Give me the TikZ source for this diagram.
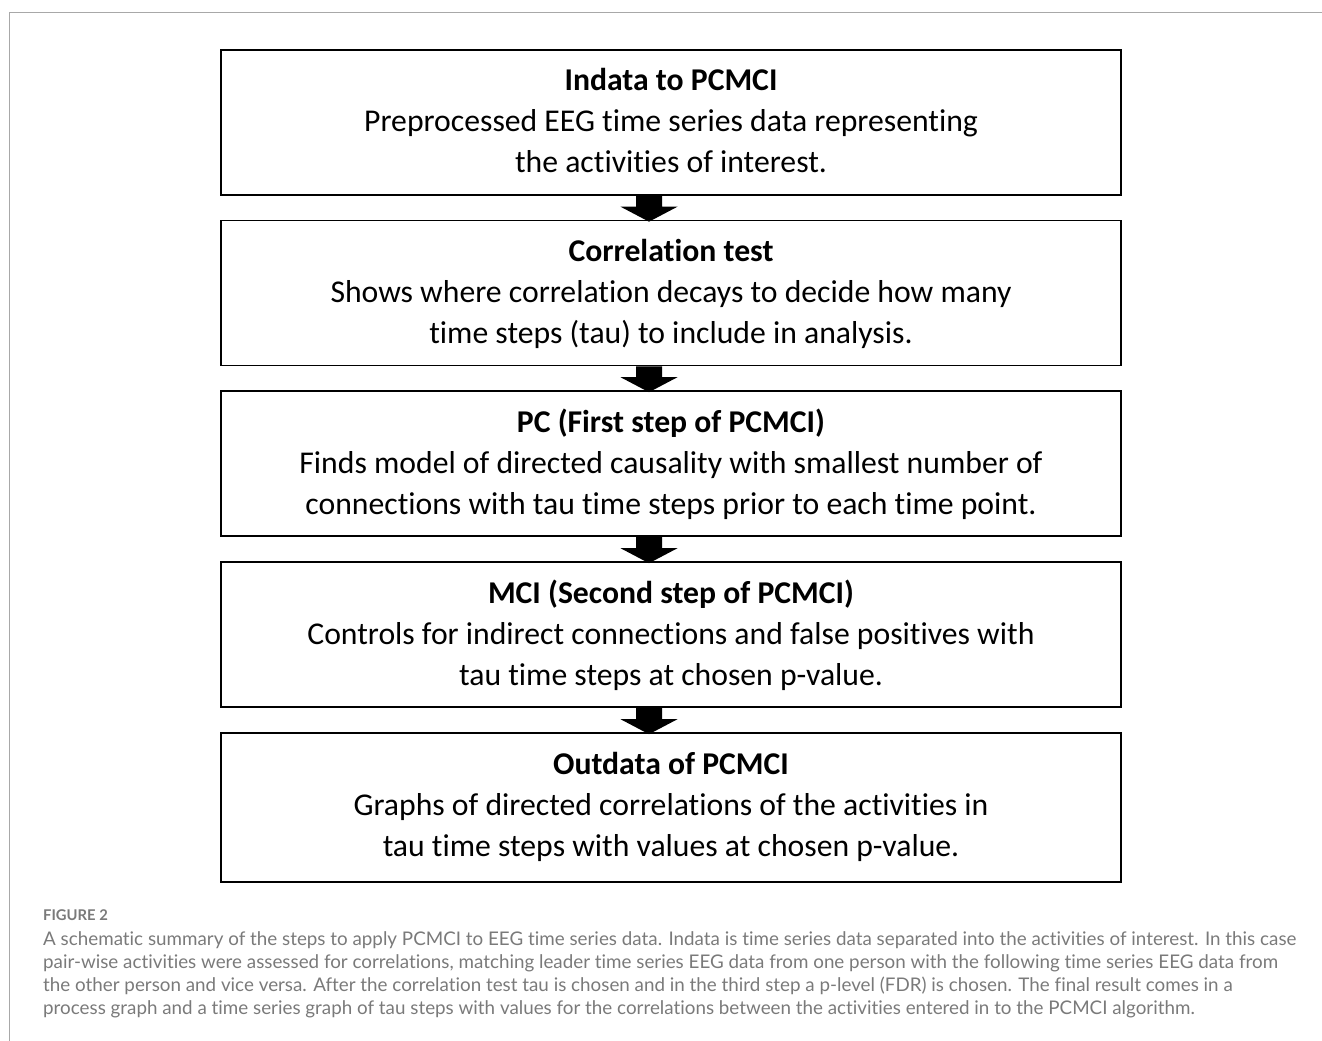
\documentclass[tikz,border=0pt]{standalone}
\usepackage{fontspec}
\setmainfont[Ligatures={NoCommon,NoContextual},RawFeature={-liga,-dlig}]{Carlito}
\newfontfamily\capfont[Ligatures={NoCommon,NoContextual},RawFeature={-liga,-dlig}]{Lato}
\usetikzlibrary{calc}
\definecolor{framegray}{HTML}{A8A8A8}
\definecolor{capgray}{HTML}{7A7A7A}
\tikzset{
  stepbox/.style={draw=black, line width=1.6pt, minimum width=900pt, minimum height=145pt,
    inner sep=0pt, align=center, font=\fontsize{31.7}{41}\selectfont},
  blockarrow/.style={fill=black},
  captext/.style={anchor=base west, inner sep=0pt, text=capgray, font=\capfont\fontsize{18.8}{23.3}\selectfont},
}
\newcommand{\boxtitle}[1]{{\bfseries #1}}
% block arrow from box #1 to box #2, shifted left of the box centre by 22
\newcommand{\flowarrow}[2]{%
  \fill[blockarrow] ($(#1.south)+(-35,0)$) -- ($(#2.north)+(-35,-13)$) -- ($(#2.north)+(-50.5,-13)$)
    -- ($(#2.north)+(-22,2)$) -- ($(#2.north)+(6.5,-13)$) -- ($(#2.north)+(-9,-13)$)
    -- ($(#1.south)+(-9,0)$) -- cycle;}
\begin{document}
\begin{tikzpicture}[x=1pt,y=-1pt]
\useasboundingbox (0,0) rectangle (1322,1041);
\draw[framegray, line width=1.5pt] (1322,12.5) -- (9.5,12.5) -- (9.5,1041);
\node[stepbox] (b1) at (671,122.5) {\boxtitle{Indata to PCMCI}\\Preprocessed EEG time series data representing\\the activities of interest.\\[-37pt]\mbox{}};
\node[stepbox] (b2) at (671,293) {\boxtitle{Correlation test}\\Shows where correlation decays to decide how many\\time steps (tau) to include in analysis.\\[-37pt]\mbox{}};
\node[stepbox] (b3) at (671,463.5) {\boxtitle{PC (First step of PCMCI)}\\Finds model of directed causality with smallest number of\\connections with tau time steps prior to each time point.\\[-37pt]\mbox{}};
\node[stepbox] (b4) at (671,634.5) {\boxtitle{MCI (Second step of PCMCI)}\\Controls for indirect connections and false positives with\\tau time steps at chosen p-value.\\[-37pt]\mbox{}};
\node[stepbox, minimum height=149pt] (b5) at (671,807.5) {\boxtitle{Outdata of PCMCI}\\Graphs of directed correlations of the activities in\\tau time steps with values at chosen p-value.\\[-35pt]\mbox{}};
\flowarrow{b1}{b2}
\flowarrow{b2}{b3}
\flowarrow{b3}{b4}
\flowarrow{b4}{b5}
\node[anchor=base west, inner sep=0pt, text=capgray, font=\capfont\fontsize{14.8}{16}\selectfont\bfseries] (figlabel) at (43,920.7) {FIGURE 2};
\node[captext] (cap1) at (43,945) {A schematic summary of the steps to apply PCMCI to EEG time series data. Indata is time series data separated into the activities of interest. In this case};
\node[captext] (cap2) at (43,968.3) {pair-wise activities were assessed for correlations, matching leader time series EEG data from one person with the following time series EEG data from};
\node[captext] (cap3) at (43,991.6) {the other person and vice versa. After the correlation test tau is chosen and in the third step a p-level (FDR) is chosen. The final result comes in a};
\node[captext] (cap4) at (43,1014.9) {process graph and a time series graph of tau steps with values for the correlations between the activities entered in to the PCMCI algorithm.};
\end{tikzpicture}
\end{document}
